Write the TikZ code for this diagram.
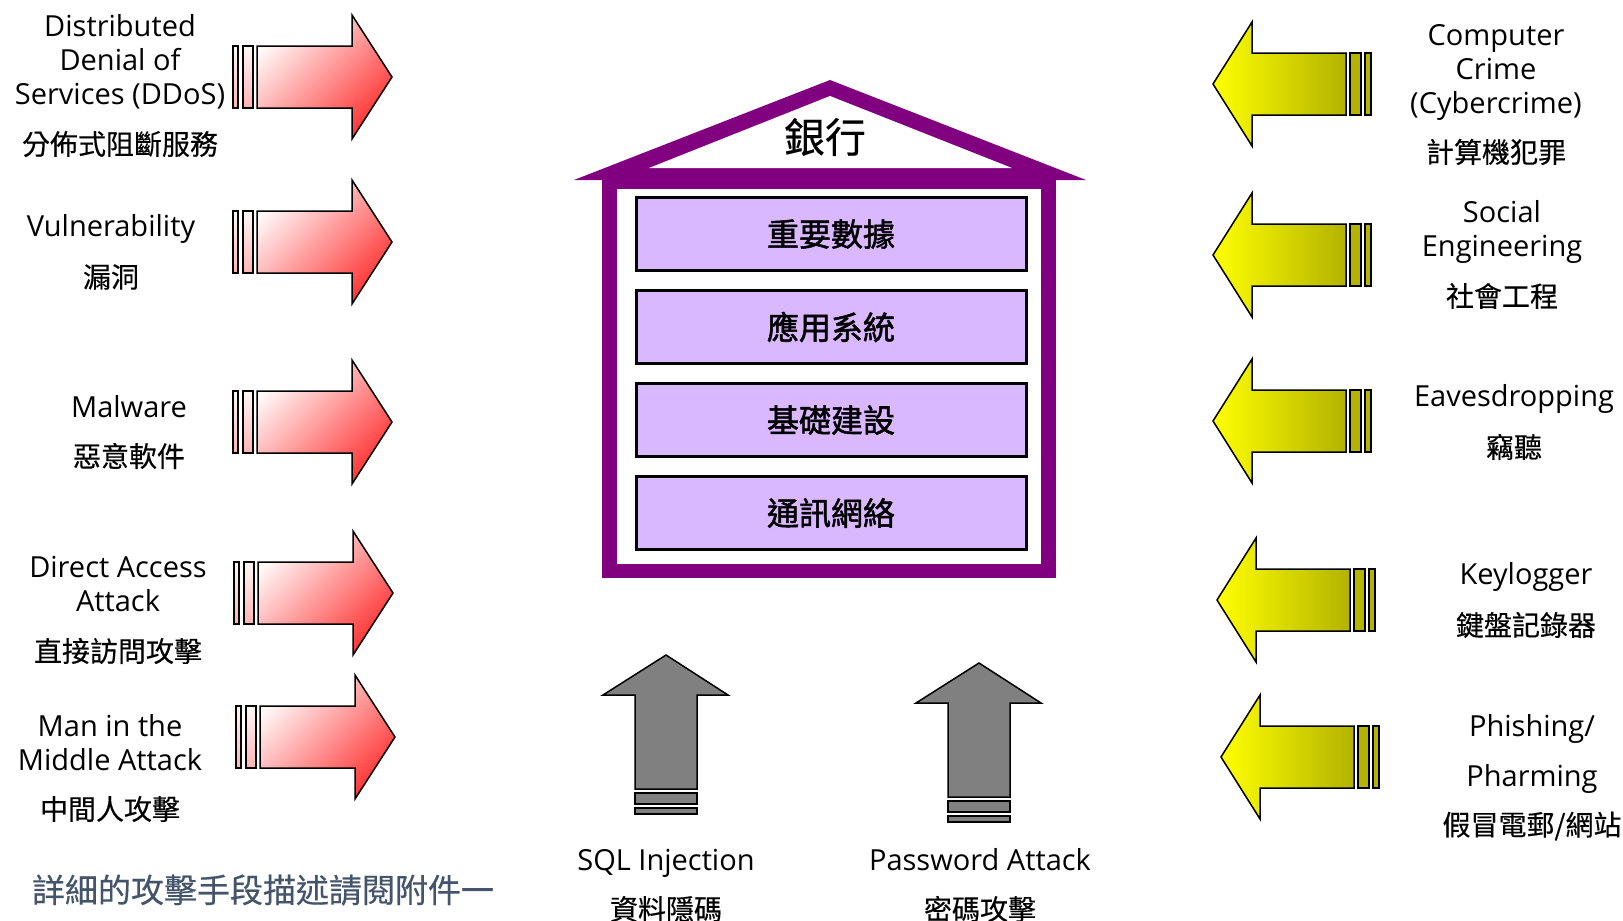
\documentclass[tikz,border=0pt]{standalone}
\usepackage{fontspec}
\setmainfont{Open Sans}
\newfontfamily\cjk[FakeBold=0.4]{Noto Sans CJK TC}
\newfontfamily\cjkbold[FakeBold=1.6]{Noto Sans CJK TC}
\usetikzlibrary{positioning}
\definecolor{bankpurple}{RGB}{128,0,128}
\definecolor{boxlilac}{RGB}{218,184,255}
\definecolor{notegray}{RGB}{68,84,106}
\definecolor{darkolive}{RGB}{179,179,0}
\definecolor{arrowgray}{RGB}{128,128,128}

\begin{document}
\begin{tikzpicture}[x=1pt,y=-1pt,
    lbl/.style={align=center,inner sep=0,font=\fontsize{29}{34}\selectfont},
    zh/.style={align=center,inner sep=0,font=\cjk\fontsize{28}{32}\selectfont},
    layer/.style={draw=black,line width=3pt,fill=boxlilac,minimum width=390pt,
                  minimum height=73pt,inner sep=0,font=\cjkbold\fontsize{32}{38}\selectfont},
    node distance=17pt,
    redarrow/.pic={
        \path[draw,line width=1.5pt,top color=red!3,bottom color=red!30] (0,-31) rectangle (5,31);
        \path[draw,line width=1.5pt,top color=red!3,bottom color=red!30] (10,-31) rectangle (20,31);
        \path[draw,line width=1.5pt,top color=red!2,bottom color=red!80,shading angle=45]
            (24,-31) -- (119,-31) -- (119,-62) -- (159,0) -- (119,62) -- (119,31) -- (24,31) -- cycle;
    },
    yellowarrow/.pic={
        \path[draw,line width=1.5pt,left color=yellow,right color=darkolive]
            (0,0) -- (39,-62) -- (39,-31) -- (133,-31) -- (133,31) -- (39,31) -- (39,62) -- cycle;
        \path[draw,line width=1.5pt,fill=darkolive] (137,-31) rectangle (148,31);
        \path[draw,line width=1.5pt,fill=darkolive] (152,-31) rectangle (158,31);
    },
    grayarrow/.pic={
        \path[draw,line width=1.5pt,fill=arrowgray]
            (0,0) -- (62,40) -- (31,40) -- (31,134) -- (-31,134) -- (-31,40) -- (-63,40) -- cycle;
        \path[draw,line width=1.5pt,fill=arrowgray] (-31,138) rectangle (31,149);
        \path[draw,line width=1.5pt,fill=arrowgray] (-31,153) rectangle (31,159);
    }
    ]
    \useasboundingbox (0,0) rectangle (1623,921);
    %%% Bank house
    \fill[bankpurple] (574,180) -- (830,80) -- (1086,180) -- cycle;
    \fill[bankpurple] (602,180) rectangle (1056,578);
    \fill[white] (649,168) -- (830,96) -- (1012,168) -- cycle;
    \fill[white] (617,189) rectangle (1041,564);
    \node[inner sep=0,font=\cjk\fontsize{41}{48}\selectfont] (bank) at (825,137) {銀行};
    \node[layer] (data) at (831,234) {重要數據};
    \node[layer,below=of data] (apps) {應用系統};
    \node[layer,below=of apps] (infra) {基礎建設};
    \node[layer,below=of infra] (network) {通訊網絡};
    %%% Attacks from the left
    \foreach \x/\y in {233/77,233/242,233/422,234/593,236/737}
        \pic at (\x,\y) {redarrow};
    \node[lbl] (ddos) at (120,62) {Distributed\\Denial of\\Services (DDoS)};
    \node[zh] (ddos_zh) at (120,144) {分佈式阻斷服務};
    \node[lbl] (vuln) at (111,229) {Vulnerability};
    \node[zh] (vuln_zh) at (111,277) {漏洞};
    \node[lbl] (malware) at (129,407) {Malware};
    \node[zh] (malware_zh) at (129,456) {惡意軟件};
    \node[lbl] (direct) at (118,584) {Direct Access\\Attack};
    \node[zh] (direct_zh) at (118,651) {直接訪問攻擊};
    \node[lbl] (mitm) at (110,743) {Man in the\\Middle Attack};
    \node[zh] (mitm_zh) at (110,809) {中間人攻擊};
    %%% Attacks from the right
    \foreach \x/\y in {1213/84,1213/255,1213/421,1217/600,1221/757}
        \pic at (\x,\y) {yellowarrow};
    \node[lbl] (crime) at (1496,72) {Computer\\Crime\\(Cybercrime)};
    \node[zh] (crime_zh) at (1496,152) {計算機犯罪};
    \node[lbl] (social) at (1502,232) {Social\\Engineering};
    \node[zh] (social_zh) at (1502,296) {社會工程};
    \node[lbl] (eaves) at (1514,399) {Eavesdropping};
    \node[zh] (eaves_zh) at (1514,447) {竊聽};
    \node[lbl] (keylog) at (1526,577) {Keylogger};
    \node[zh] (keylog_zh) at (1526,625) {鍵盤記錄器};
    \node[lbl,font=\fontsize{29}{50}\selectfont] (phish) at (1532,754) {Phishing/\\Pharming};
    \node[zh] (phish_zh) at (1532,826) {假冒電郵/網站};
    %%% Attacks from below
    \foreach \x/\y in {666/655,979/663}
        \pic at (\x,\y) {grayarrow};
    \node[lbl] (sql) at (666,863) {SQL Injection};
    \node[zh] (sql_zh) at (666,909) {資料隱碼};
    \node[lbl] (pwd) at (980,860) {Password Attack};
    \node[zh] (pwd_zh) at (980,909) {密碼攻擊};
    %%% Note
    \node[inner sep=0,text=notegray,font=\cjk\fontsize{33}{38}\selectfont] (note) at (263,890) {詳細的攻擊手段描述請閱附件一};
\end{tikzpicture}
\end{document}
